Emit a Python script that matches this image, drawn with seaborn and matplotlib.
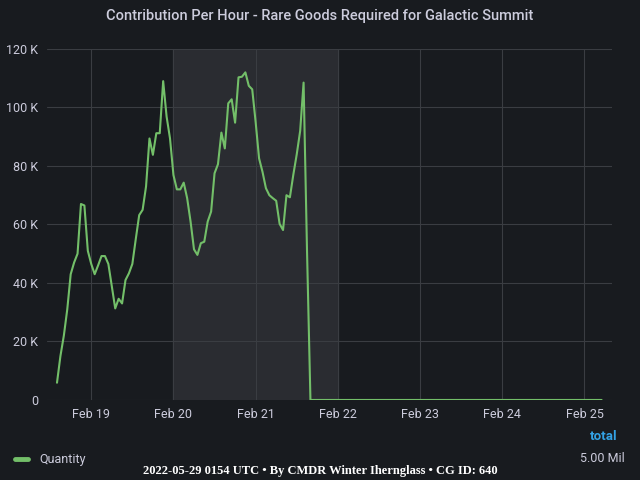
import pandas as pd
import numpy as np
import matplotlib
matplotlib.use("Agg")
import matplotlib.pyplot as plt
import matplotlib.dates as mdates
from matplotlib.ticker import FuncFormatter
import seaborn as sns

# hourly contribution (thousands), from Feb 18 14:00 onwards
start = "2022-02-18 14:00"
active_k = [5.9, 15, 22, 31, 43, 47, 50, 67, 66.5, 51,
            46.5, 43, 46, 49.2, 49.2, 46.5, 39, 31.3, 34.6, 33,
            41, 43.3, 46.5, 55, 63.2, 65, 73, 89.4, 83.8, 91.2,
            91.2, 109, 96.9, 89.4, 76.9, 72, 72, 74.3, 69, 61,
            51.5, 49.6, 53.6, 54.1, 61, 64.4, 77.5, 80.6, 91.4, 86,
            101.4, 102.8, 94.8, 110.3, 110.5, 112, 107.4, 106.2, 95, 82.6,
            78, 72.4, 70, 69, 68.1, 60.2, 58.1, 70, 69.3, 77,
            84, 92, 108.5, 51]
zero_hours = 86  # flat at zero until Feb 25 05:00
total_label = "5.00 Mil"
shade_from = "2022-02-20"
shade_to = "2022-02-22"
title = "Contribution Per Hour - Rare Goods Required for Galactic Summit"
footer = "2022-05-29 0154 UTC \u2022 By CMDR Winter Ihernglass \u2022 CG ID: 640"

values = np.array(active_k + [0] * zero_hours) * 1000
df = pd.DataFrame({
    "time": pd.date_range(start, periods=len(values), freq="h"),
    "Quantity": values,
})

bg = "#181b1f"
txt = "#ccccdc"
sns.set_style("dark")
plt.rcParams["font.family"] = ["Roboto", "DejaVu Sans"]

fig = plt.figure(figsize=(6.4, 4.8), dpi=100, facecolor=bg)
ax = fig.add_axes([0.073, 0.1667, 0.883, 0.7313])
ax.set_facecolor(bg)

ax.axvspan(pd.Timestamp(shade_from), pd.Timestamp(shade_to), color="#2a2c31", zorder=0)
sns.lineplot(data=df, x="time", y="Quantity", ax=ax, color="#73bf69", linewidth=1.5, zorder=3)

ax.set_xlim(pd.Timestamp("2022-02-18 11:00"), pd.Timestamp("2022-02-25 08:00"))
ax.set_ylim(0, 120000)
ax.set_yticks(np.arange(0, 120001, 20000))
ax.yaxis.set_major_formatter(FuncFormatter(lambda v, p: "0" if v == 0 else f"{int(v/1000)} K"))
ax.xaxis.set_major_locator(mdates.DayLocator())
ax.xaxis.set_major_formatter(mdates.DateFormatter("%b %d"))

ax.grid(True, color="#3a3d42", linewidth=0.8)
ax.set_axisbelow(True)
for s in ax.spines.values():
    s.set_visible(False)
ax.tick_params(axis="both", length=0, colors=txt, labelsize=9, pad=6)
ax.set_xlabel("")
ax.set_ylabel("")
if ax.get_legend():
    ax.get_legend().remove()

fig.text(0.5, 0.966, title, ha="center", va="center", color=txt, fontsize=10.5, fontweight="medium")

# legend row
fig.lines.append(plt.Line2D([15 / 640, 28 / 640], [1 - 459 / 480] * 2, transform=fig.transFigure,
                            color="#73bf69", linewidth=3.5))
fig.text(39 / 640, 1 - 459 / 480, "Quantity", ha="left", va="center", color=txt, fontsize=9)
fig.text(617 / 640, 1 - 436 / 480, "total", ha="right", va="center", color="#33a2e5", fontsize=9.5,
         fontweight="bold")
fig.text(625 / 640, 1 - 459 / 480, total_label, ha="right", va="center", color=txt, fontsize=9)

fig.text(0.5, 1 - 471 / 480, footer, ha="center", va="center", color="white", fontsize=9,
         fontweight="bold", family=["Liberation Serif", "DejaVu Serif"])

fig.savefig("out.png", dpi=100, facecolor=bg)
